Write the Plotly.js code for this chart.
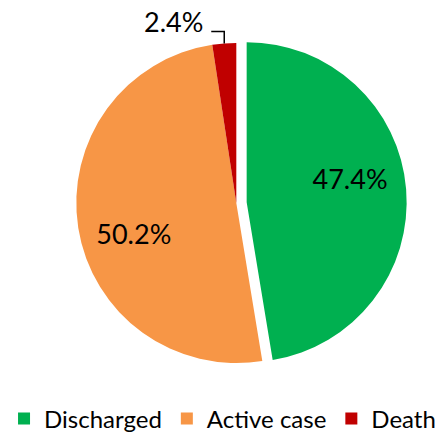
<!DOCTYPE html>
<html>
<head>
<meta charset="utf-8">
<script src="https://cdn.plot.ly/plotly-3.0.1.min.js"></script>
<style>html,body{margin:0;padding:0;background:#fff;}#chart{width:448px;height:437px;}</style>
</head>
<body>
<div id="chart"></div>
<script>
const categories = ["Discharged", "Active case", "Death"];
const values = [47.4, 50.2, 2.4];
const colors = ["#00B050", "#F79646", "#C00000"];
const pulls = [0.065, 0, 0];

const W = 448, H = 437;
const domX = [0.1471, 0.9078], domY = [0.1455, 0.9254];
const FS = "\u2007";
// inside labels nudged to match the reference's placement
const templates = [
  FS + FS + FS + "%{percent:.1%}<br>" + FS,
  FS + "<br>%{percent:.1%}" + FS + FS + FS,
  ""
];

const trace = {
  type: "pie",
  labels: categories,
  values: values,
  sort: false,
  direction: "clockwise",
  rotation: 0,
  pull: pulls,
  marker: {colors: colors, line: {width: 0}},
  texttemplate: templates,
  textposition: "inside",
  insidetextorientation: "horizontal",
  textfont: {family: "Lato, sans-serif", size: 27, color: "#000"},
  domain: {x: domX, y: domY},
  hoverinfo: "none"
};

// geometry of the pie, as Plotly computes it, for the small slice's outside label
const boxW = W * (domX[1] - domX[0]), boxH = H * (domY[1] - domY[0]);
const r = Math.min(boxW, boxH) / (2 + 2 * Math.max(...pulls));
const cx = W * (domX[0] + domX[1]) / 2;
const cy = H * (1 - domY[0]) - boxH / 2;
const total = values.reduce((a, b) => a + b, 0);
const before = values.slice(0, 2).reduce((a, b) => a + b, 0);
const theta = 2 * Math.PI * (before + values[2] / 2) / total;
const px = cx + r * Math.sin(theta), py = cy - r * Math.cos(theta);
const rise = 12, run = 13;
const toPX = x => x / W, toPY = y => 1 - y / H;
const p1 = [px, py], p2 = [px, py - rise], p3 = [px - run, py - rise];
const path = `M${toPX(p1[0])},${toPY(p1[1])} L${toPX(p2[0])},${toPY(p2[1])} L${toPX(p3[0])},${toPY(p3[1])}`;

const layout = {
  width: W,
  height: H,
  margin: {l: 0, r: 0, t: 0, b: 0, autoexpand: false},
  paper_bgcolor: "#fff",
  showlegend: true,
  legend: {
    orientation: "h",
    x: 0.009, xanchor: "left",
    y: -0.01, yanchor: "bottom",
    font: {family: "Lato, sans-serif", size: 24, color: "#000"},
    traceorder: "normal"
  },
  shapes: [{
    type: "path", xref: "paper", yref: "paper", path: path,
    line: {color: "#000", width: 1.5}
  }],
  annotations: [{
    xref: "paper", yref: "paper",
    x: toPX(p3[0] - 6), y: toPY(p3[1] - 10),
    xanchor: "right", yanchor: "middle",
    text: (values[2] / total * 100).toFixed(1) + "%",
    showarrow: false,
    font: {family: "Lato, sans-serif", size: 27, color: "#000"}
  }]
};

Plotly.newPlot("chart", [trace], layout, {displayModeBar: false, staticPlot: true});
</script>
</body>
</html>
